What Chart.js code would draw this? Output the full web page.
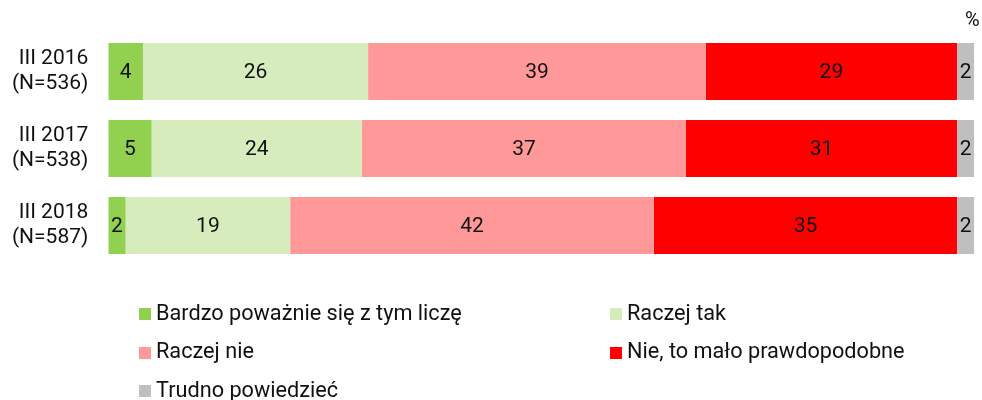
<!DOCTYPE html>
<html>
<head>
<meta charset="utf-8">
<script src="https://cdn.jsdelivr.net/npm/chart.js@4.4.1/dist/chart.umd.min.js"></script>
<style>
  html, body { margin: 0; padding: 0; background: #fff; }
  #wrap { position: relative; width: 982px; height: 400px; overflow: hidden; font-family: Roboto, "Noto Sans", sans-serif; }
  #c { position: absolute; left: 0; top: 0; }
  .sq { position: absolute; width: 12px; height: 12px; }
  .lt { position: absolute; font-size: 21.7px; line-height: 22px; color: #111; white-space: nowrap; }
  #pct { position: absolute; left: 965px; top: 9px; font-size: 20px; line-height: 20px; color: #111; }
</style>
</head>
<body>
<div id="wrap">
  <canvas id="c" width="982" height="400"></canvas>
  <div id="pct">%</div>
  <div id="legend"></div>
</div>
<script>
// ---- data ----
const categories = [["III 2016", "(N=536)"], ["III 2017", "(N=538)"], ["III 2018", "(N=587)"]];
const seriesNames = ["Bardzo poważnie się z tym liczę", "Raczej tak", "Raczej nie", "Nie, to mało prawdopodobne", "Trudno powiedzieć"];
const bardzo = [4, 5, 2];
const raczejTak = [26, 24.3, 19];
const raczejNie = [39, 37.4, 42];
const nieMalo = [29, 31.3, 35];
const trudno = [2, 2, 2];
const seriesColors = ["#92D050", "#D6ECBD", "#FF9999", "#FF0000", "#BFBFBF"];

const seriesValues = [bardzo, raczejTak, raczejNie, nieMalo, trudno];

const FONT = "Roboto, 'Noto Sans', sans-serif";

const valueLabels = {
  id: 'valueLabels',
  afterDatasetsDraw(chart) {
    const ctx = chart.ctx;
    ctx.save();
    ctx.font = "21px " + FONT;
    ctx.fillStyle = "#111";
    ctx.textAlign = "center";
    ctx.textBaseline = "middle";
    chart.data.datasets.forEach((ds, i) => {
      const meta = chart.getDatasetMeta(i);
      meta.data.forEach((el, j) => {
        const p = el.getProps(['x', 'y', 'base'], true);
        const cx = (p.x + p.base) / 2;
        ctx.fillText(String(Math.round(ds.data[j])), cx, p.y + 1);
      });
    });
    ctx.restore();
  }
};

new Chart(document.getElementById('c'), {
  type: 'bar',
  data: {
    labels: categories,
    datasets: seriesNames.map((name, i) => ({
      label: name,
      data: seriesValues[i],
      backgroundColor: seriesColors[i],
      borderWidth: 0,
      categoryPercentage: 1,
      barPercentage: 0.74
    }))
  },
  options: {
    indexAxis: 'y',
    responsive: false,
    animation: false,
    layout: { padding: { top: 33, bottom: 136, left: 0, right: 7.7 } },
    plugins: { legend: { display: false }, tooltip: { enabled: false } },
    scales: {
      x: { stacked: true, min: 0, max: 100, display: false },
      y: {
        stacked: true,
        grid: { display: false, drawTicks: false },
        border: { display: false },
        afterFit(s) { s.width = 108.3; s.paddingTop = 0; s.paddingBottom = 0; },
        ticks: { padding: 20, color: "#111", font: { family: FONT, size: 21 }, autoSkip: false }
      }
    }
  },
  plugins: [valueLabels]
});

// ---- HTML legend ----
const legendPos = [
  { sx: 139, tx: 156, base: 320 },
  { sx: 610, tx: 627, base: 320 },
  { sx: 139, tx: 156, base: 358.5 },
  { sx: 610, tx: 627, base: 358.5 },
  { sx: 139, tx: 156, base: 397 }
];
const lg = document.getElementById('legend');
seriesNames.forEach((name, i) => {
  const p = legendPos[i];
  const sq = document.createElement('div');
  sq.className = 'sq';
  sq.style.left = p.sx + 'px';
  sq.style.top = (p.base - 12) + 'px';
  sq.style.background = seriesColors[i];
  lg.appendChild(sq);
  const t = document.createElement('div');
  t.className = 'lt';
  t.style.left = p.tx + 'px';
  t.style.top = (p.base - 18.3) + 'px';
  t.textContent = name;
  lg.appendChild(t);
});
</script>
</body>
</html>
